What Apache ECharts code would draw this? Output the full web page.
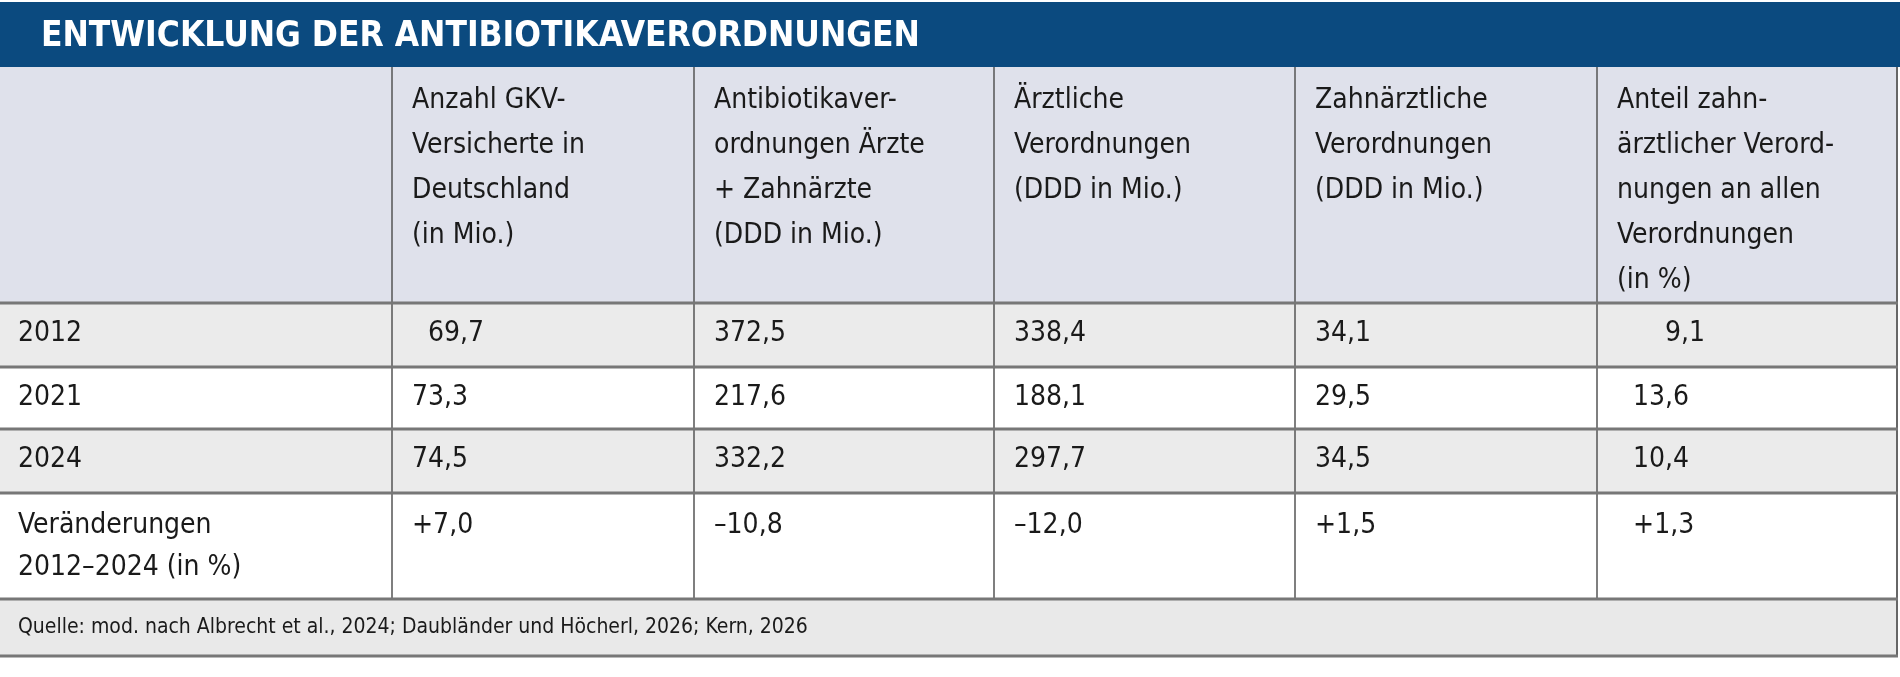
<!DOCTYPE html>
<html><head><meta charset="utf-8">
<script src="https://cdn.jsdelivr.net/npm/echarts@6/dist/echarts.min.js"></script>
<style>html,body{margin:0;padding:0;background:#fff}#root{width:1900px;height:677px}</style>
</head><body><div id="root"></div>
<script>
const title = "ENTWICKLUNG DER ANTIBIOTIKAVERORDNUNGEN";
const headers = [
  "",
  "Anzahl GKV-\nVersicherte in\nDeutschland\n(in Mio.)",
  "Antibiotikaver-\nordnungen Ärzte\n+ Zahnärzte\n(DDD in Mio.)",
  "Ärztliche\nVerordnungen\n(DDD in Mio.)",
  "Zahnärztliche\nVerordnungen\n(DDD in Mio.)",
  "Anteil zahn-\närztlicher Verord-\nnungen an allen\nVerordnungen\n(in %)"
];
const rowLabels = ["2012", "2021", "2024", "Veränderungen\n2012\u20132024 (in %)"];
const versicherte = ["\u200769,7", "73,3", "74,5", "+7,0"];
const gesamt = ["372,5", "217,6", "332,2", "\u201310,8"];
const aerztlich = ["338,4", "188,1", "297,7", "\u201312,0"];
const zahnaerztlich = ["34,1", "29,5", "34,5", "+1,5"];
const anteil = ["\u2007\u2007\u20079,1", "\u200713,6", "\u200710,4", "\u2007+1,3"];
const source = "Quelle: mod. nach Albrecht et al., 2024; Daubländer und Höcherl, 2026; Kern, 2026";

const colX = [0, 392, 694, 994, 1295, 1597, 1898];
const rowY = [67, 303, 367, 429, 493, 599, 656];
const font = "'DejaVu Sans Condensed', 'DejaVu Sans', sans-serif";
const columns = [rowLabels, versicherte, gesamt, aerztlich, zahnaerztlich, anteil];

const els = [];
els.push({ type: 'rect', shape: { x: 0, y: 2, width: 1900, height: 65 }, style: { fill: '#0b4a7f' } });
els.push({ type: 'text', x: 41, y: 37, style: { text: title, font: "bold 35px " + font, fill: '#fff', textVerticalAlign: 'middle' } });
els.push({ type: 'rect', shape: { x: 0, y: 67, width: 1898, height: 236 }, style: { fill: '#dfe1eb' } });
const rowFill = ['#ebebeb', '#ffffff', '#ebebeb', '#ffffff'];
for (let r = 0; r < 4; r++) {
  els.push({ type: 'rect', shape: { x: 0, y: rowY[r + 1], width: 1898, height: rowY[r + 2] - rowY[r + 1] }, style: { fill: rowFill[r] } });
}
els.push({ type: 'rect', shape: { x: 0, y: 599, width: 1898, height: 57 }, style: { fill: '#e9e9e9' } });

headers.forEach((h, c) => {
  els.push({ type: 'text', x: colX[c] + 20, y: 78, style: { text: h, font: "28px " + font, fill: '#1a1a1a', lineHeight: 45 } });
});
columns.forEach((col, c) => {
  col.forEach((v, r) => {
    els.push({ type: 'text', x: colX[c] + (c === 0 ? 18 : 20), y: rowY[r + 1] + (r === 3 ? 12 : 10),
      style: { text: v, font: "28px " + font, fill: '#1a1a1a', lineHeight: 42 } });
  });
});
els.push({ type: 'text', x: 18, y: 628, style: { text: source, font: "21px " + font, fill: '#1a1a1a', textVerticalAlign: 'middle' } });

// grid lines
for (let c = 1; c < 6; c++) {
  els.push({ type: 'line', shape: { x1: colX[c], y1: 67, x2: colX[c], y2: 599 }, style: { stroke: '#555', lineWidth: 1.5 } });
}
els.push({ type: 'line', shape: { x1: 1897, y1: 67, x2: 1897, y2: 656 }, style: { stroke: '#666', lineWidth: 2 } });
for (let r = 1; r < rowY.length; r++) {
  els.push({ type: 'line', shape: { x1: 0, y1: rowY[r], x2: 1898, y2: rowY[r] }, style: { stroke: '#777', lineWidth: 3 } });
}

const chart = echarts.init(document.getElementById('root'));
chart.setOption({ animation: false, graphic: { elements: els } });
</script>
</body></html>
